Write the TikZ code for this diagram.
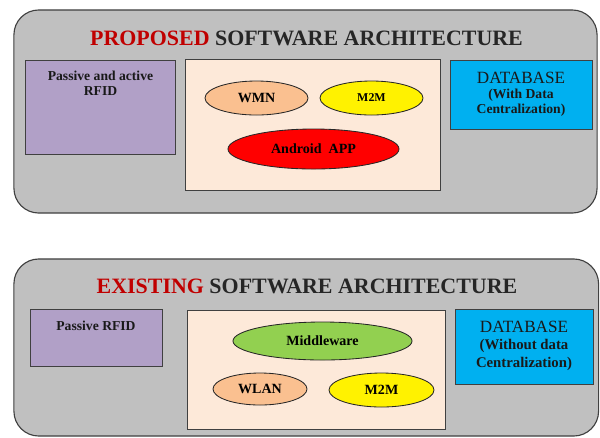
\documentclass[tikz,border=0pt]{standalone}
\usepackage{fontspec}
\setmainfont{Liberation Serif}
\usetikzlibrary{shapes.geometric,positioning}

\definecolor{panelgray}{RGB}{192,192,192}
\definecolor{edgegray}{RGB}{64,64,64}
\definecolor{lavender}{RGB}{177,160,199}
\definecolor{cream}{RGB}{253,233,217}
\definecolor{skyblue}{RGB}{0,176,240}
\definecolor{peach}{RGB}{250,192,144}
\definecolor{lime}{RGB}{146,208,80}
\definecolor{darkred}{RGB}{192,0,0}

\begin{document}
\begin{tikzpicture}[%
	    x=0.025cm,
	    y=-0.025cm,
	    panel/.style={draw=edgegray, fill=panelgray, rounded corners=0.62cm, line width=0.8pt, inner sep=0},
	    box/.style={draw=edgegray, line width=0.7pt, inner sep=0},
	    oval/.style={ellipse, draw=black!85, line width=0.6pt, inner sep=0, font=\fontsize{10}{12}\selectfont\bfseries},
	    heading/.style={font=\fontsize{15.6}{18}\selectfont\bfseries, text=black!85, anchor=base},
	    boxtext/.style={font=\fontsize{9.7}{10.7}\selectfont\bfseries, align=center, text=black!90},
	    dbname/.style={font=\fontsize{12.2}{14}\selectfont, text=black!90}
	  ]

	  \useasboundingbox (0,0) rectangle (600,437);

	  % proposed
	  \node[panel, minimum width=14.575cm, minimum height=5.075cm] (PROP) at (305.5,111.5) {};
	  \node[heading] (PROPtitle) at (306.5,45) {{\color{darkred}PROPOSED} SOFTWARE ARCHITECTURE};

	  \node[box, fill=lavender, minimum width=3.725cm, minimum height=2.35cm] (RFIDa) at (100.5,107) {};
	  \node[boxtext] (RFIDatext) at (100.5,83.5) {Passive and active\\RFID};

	  \node[box, fill=cream, minimum width=6.35cm, minimum height=3.25cm] (MIDa) at (313,125) {};
	  \node[oval, fill=peach, minimum width=2.575cm, minimum height=0.85cm] (WMN) at (256.5,98) {WMN};
	  \node[oval, fill=yellow, minimum width=2.575cm, minimum height=0.85cm, font=\fontsize{8.5}{10}\selectfont\bfseries] (MMa) at (371.5,98) {M2M};
	  \node[oval, fill=red, minimum width=4.275cm, minimum height=1cm] (APP) at (313.5,149) {Android\ \ APP};

	  \node[box, fill=skyblue, minimum width=3.525cm, minimum height=1.725cm] (DBa) at (521.5,94.5) {};
	  \node[dbname] (DBatext) at (521,78) {DATABASE};
	  \node[boxtext] (DBasub) at (521,103) {(With Data\\Centralization)};

	  % existing
	  \node[panel, minimum width=14.6125cm, minimum height=4.425cm] (EXIST) at (306.25,347.5) {};
	  \node[heading] (EXISTtitle) at (307,293) {{\color{darkred}EXISTING} SOFTWARE ARCHITECTURE};

	  \node[box, fill=lavender, minimum width=3.275cm, minimum height=1.425cm] (RFIDb) at (96.5,337.5) {};
	  \node[boxtext] (RFIDbtext) at (96,326) {Passive RFID};

	  \node[box, fill=cream, minimum width=6.425cm, minimum height=2.975cm] (MIDb) at (316.5,369.5) {};
	  \node[oval, fill=lime, minimum width=4.475cm, minimum height=0.95cm] (MW) at (322.5,341) {Middleware};
	  \node[oval, fill=peach, minimum width=2.35cm, minimum height=0.8cm] (WLAN) at (260,389) {WLAN};
	  \node[oval, fill=yellow, minimum width=2.625cm, minimum height=0.85cm] (MMb) at (381.5,390) {M2M};

	  \node[box, fill=skyblue, minimum width=3.425cm, minimum height=1.875cm] (DBb) at (524.5,346.5) {};
	  \node[dbname] (DBbtext) at (524,327) {DATABASE};
	  \node[boxtext, font=\fontsize{10.5}{12.8}\selectfont\bfseries] (DBbsub) at (524,355) {(Without data\\Centralization)};

\end{tikzpicture}
\end{document}
